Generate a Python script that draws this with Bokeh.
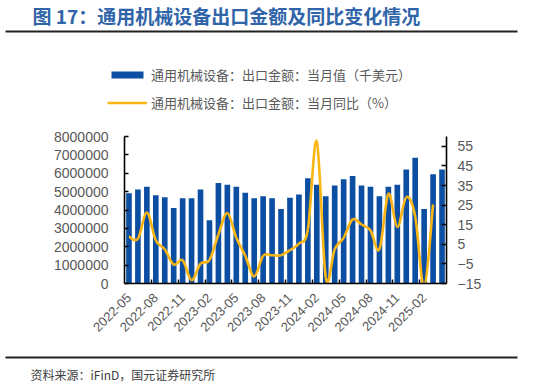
import math
from bokeh.plotting import figure
from bokeh.layouts import column
from bokeh.models import (Range1d, LinearAxis, FixedTicker, Label, Legend, LegendItem,
                          BasicTickFormatter, ColumnDataSource)
from bokeh.embed import file_html
from bokeh.resources import INLINE

# ---------------- data ----------------
months = ["2022-05", "2022-06", "2022-07", "2022-08", "2022-09", "2022-10", "2022-11", "2022-12",
          "2023-01", "2023-02", "2023-03", "2023-04", "2023-05", "2023-06", "2023-07", "2023-08",
          "2023-09", "2023-10", "2023-11", "2023-12", "2024-01", "2024-02", "2024-03", "2024-04",
          "2024-05", "2024-06", "2024-07", "2024-08", "2024-09", "2024-10", "2024-11", "2024-12",
          "2025-01", "2025-02", "2025-03", "2025-04"]
export_value = [4910000, 5110000, 5270000, 4800000, 4690000, 4110000, 4640000, 4640000,
                5110000, 3440000, 5470000, 5380000, 5270000, 4940000, 4640000, 4750000,
                4640000, 4050000, 4670000, 4850000, 5730000, 5380000, 4750000, 5330000,
                5670000, 5850000, 5330000, 5270000, 4750000, 5270000, 5380000, 6200000,
                6840000, 4050000, 5950000, 6200000]
export_yoy = [9.0, 7.8, 21.2, 7.0, 2.5, -5.4, -3.1, -13.3, -4.9, -3.0, 10.0, 21.0,
              8.3, -0.9, -11.4, -0.9, -0.6, -0.6, 2.0, 5.3, 12.6, 57.5, -12.0, 2.5,
              8.3, 17.7, 15.1, 12.1, 2.5, 30.7, 13.8, 29.0, 19.3, -17.0, 25.3, float("nan")]
left_ticks = [0, 1000000, 2000000, 3000000, 4000000, 5000000, 6000000, 7000000, 8000000]
right_ticks = [-15, -5, 5, 15, 25, 35, 45, 55]
label_step = 3

title_text = "图 17：通用机械设备出口金额及同比变化情况"
bar_name = "通用机械设备：出口金额：当月值（千美元）"
line_name = "通用机械设备：出口金额：当月同比（%）"
source_text = "资料来源：iFinD，国元证券研究所"

# ---------------- styling ----------------
BAR_COLOR = "#0C4EA2"
LINE_COLOR = "#FBB614"
GRAY = "#595959"
RULE = "#222222"
NUM_FONT = "Liberation Sans"
CJK_FONT = "Noto Sans CJK SC"

W = 533
TITLE_H, LEG_H, MAIN_H, FOOT_H = 28, 100, 224, 35
FL, FW, FT, FH = 124, 322, 8, 147

n = len(months)
xs = list(range(n))


def blank(h):
    # frame == whole canvas, data units == pixels (y up)
    f = figure(width=W, height=h, output_backend="svg", toolbar_location=None,
               x_range=Range1d(0, W), y_range=Range1d(0, h),
               min_border=0, x_axis_location=None, y_axis_location=None)
    f.outline_line_color = None
    f.grid.visible = False
    f.frame_align = False
    return f


# ---------------- title ----------------
head = blank(TITLE_H)
head.add_layout(Label(x=32, y=TITLE_H - 15, x_units="screen", y_units="screen", text=title_text,
                      text_font=CJK_FONT, text_font_size="19px", text_font_style="bold",
                      text_color="#2F64A8", text_baseline="middle"))

# ---------------- rule + legend ----------------
leg = blank(LEG_H)
leg.segment(x0=[5], y0=[LEG_H - 3], x1=[517], y1=[LEG_H - 3], line_color=RULE, line_width=2)
# legend keys: the series themselves (hidden here; drawn in the chart below)
key_bar = leg.vbar(x=xs, top=export_value, width=0.63, fill_color=BAR_COLOR, line_color=None,
                   visible=False)
key_line = leg.line(x=xs, y=export_yoy, line_color=LINE_COLOR, line_width=2.6, visible=False)
legend = Legend(items=[LegendItem(label=bar_name, renderers=[key_bar]),
                       LegendItem(label=line_name, renderers=[key_line])],
                location=(107, 16), orientation="vertical",
                glyph_width=40, glyph_height=9, label_height=20, spacing=8,
                label_standoff=4, padding=0, margin=0, click_policy="none",
                border_line_color=None, background_fill_alpha=0,
                inactive_fill_alpha=0,
                label_text_font=CJK_FONT, label_text_font_size="13px",
                label_text_color=GRAY)
leg.add_layout(legend, "center")

# ---------------- main chart ----------------
p = figure(width=W, height=MAIN_H, output_backend="svg", toolbar_location=None,
           x_range=Range1d(-0.5, n - 0.5), y_range=Range1d(0, 8000000),
           min_border_left=FL, min_border_right=W - FL - FW,
           min_border_top=FT, min_border_bottom=MAIN_H - FT - FH,
           x_axis_location=None, y_axis_location=None)
p.outline_line_color = None
p.grid.visible = False
p.frame_align = False
p.extra_y_ranges = {"pct": Range1d(-15, 60)}

src = ColumnDataSource(dict(x=xs, v=export_value))
bars = p.vbar(x="x", top="v", width=0.63, source=src, fill_color=BAR_COLOR, line_color=None)

# smoothed yoy line (cubic Bezier segments through the data points)
x0, y0, x1, y1, cx0, cy0, cx1, cy1 = [], [], [], [], [], [], [], []
def val(i):
    i = max(0, min(n - 1, i))
    return export_yoy[i]
for i in range(n - 1):
    a, b = export_yoy[i], export_yoy[i + 1]
    if math.isnan(a) or math.isnan(b):
        continue
    pm = val(i - 1) if not math.isnan(val(i - 1)) else a
    pp = val(i + 2) if not math.isnan(val(i + 2)) else b
    xm = max(i - 1, 0)
    xp = min(i + 2, n - 1) if not math.isnan(val(i + 2)) else i + 1
    x0.append(i); y0.append(a); x1.append(i + 1); y1.append(b)
    cx0.append(i + (i + 1 - xm) / 6.0); cy0.append(a + (b - pm) / 6.0)
    cx1.append(i + 1 - (xp - i) / 6.0); cy1.append(b - (pp - a) / 6.0)
lsrc = ColumnDataSource(dict(x0=x0, y0=y0, x1=x1, y1=y1, cx0=cx0, cy0=cy0, cx1=cx1, cy1=cy1))
p.bezier(x0="x0", y0="y0", x1="x1", y1="y1", cx0="cx0", cy0="cy0", cx1="cx1", cy1="cy1",
         source=lsrc, line_color=LINE_COLOR, line_width=2.6, y_range_name="pct")

left = LinearAxis(ticker=FixedTicker(ticks=left_ticks),
                  formatter=BasicTickFormatter(use_scientific=False))
right = LinearAxis(y_range_name="pct", ticker=FixedTicker(ticks=right_ticks))
bottom = LinearAxis(ticker=FixedTicker(ticks=xs[::label_step],
                                       minor_ticks=[i + 2.5 for i in range(0, n - 3, label_step)]),
                    major_label_overrides={i: months[i] for i in xs[::label_step]})
for ax in (left, right, bottom):
    ax.axis_line_color = "black"
    ax.axis_line_width = 1.6
    ax.major_label_text_color = GRAY
    ax.major_label_text_font = NUM_FONT
    ax.major_tick_line_color = "black"
    ax.major_tick_line_width = 1.5
    ax.minor_tick_line_color = None
left.major_tick_in = 4; left.major_tick_out = 0
left.major_label_text_font_size = "14px"; left.major_label_standoff = 16
right.major_tick_in = 5; right.major_tick_out = 0
right.major_label_text_font_size = "14px"; right.major_label_standoff = 11
bottom.major_tick_line_color = None
bottom.minor_tick_line_color = "black"; bottom.minor_tick_line_width = 1.5
bottom.minor_tick_in = 4; bottom.minor_tick_out = 0
bottom.major_label_text_font_size = "13px"
bottom.major_label_orientation = math.pi / 4
bottom.major_label_standoff = 6
p.add_layout(left, "left")
p.add_layout(right, "right")
p.add_layout(bottom, "below")

# ---------------- footer ----------------
foot = blank(FOOT_H)
foot.segment(x0=[5], y0=[FOOT_H - 5], x1=[517], y1=[FOOT_H - 5], line_color=RULE, line_width=2)
foot.add_layout(Label(x=30, y=FOOT_H - 22, x_units="screen", y_units="screen", text=source_text,
                      text_font=CJK_FONT, text_font_size="12px",
                      text_color="#404040", text_baseline="middle"))

layout = column(head, leg, p, foot, spacing=0)
open("out.html", "w").write(file_html(layout, INLINE))
